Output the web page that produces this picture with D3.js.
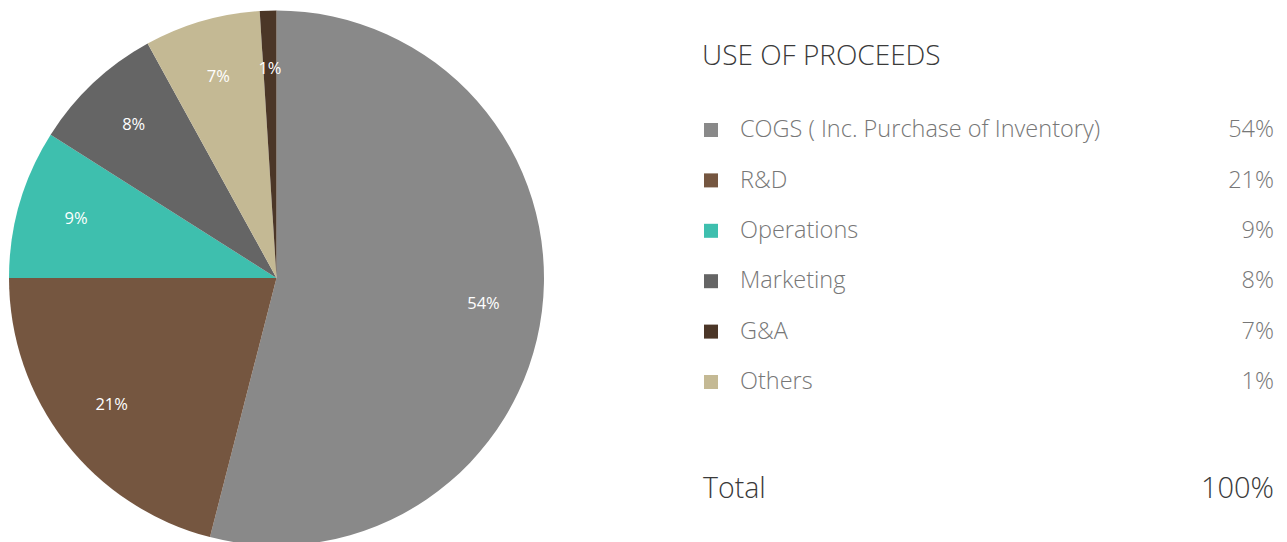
<!DOCTYPE html>
<html>
<head>
<meta charset="utf-8">
<script src="https://cdn.jsdelivr.net/npm/d3@7"></script>
<style>
  body { margin: 0; background: #fff; }
  svg { display: block; font-family: "Open Sans", "Noto Sans", sans-serif; }
</style>
</head>
<body>
<svg id="chart" width="1287" height="542"></svg>
<script>
// Use of proceeds breakdown
const categories = ["COGS ( Inc. Purchase of Inventory)", "R&D", "Operations", "Marketing", "G&A", "Others"];
const shares = [54, 21, 9, 8, 7, 1];
const totalLabel = "Total";

// pie slices and legend swatches don't share the same order for the last two in the original
const sliceColors = ["#898989", "#755640", "#3ebfae", "#656565", "#c4b994", "#4b3627"];
const legendColors = ["#898989", "#755640", "#3ebfae", "#656565", "#4b3627", "#c4b994"];

const svg = d3.select("#chart");

// ---- pie ----
const radius = 267.5;
const pieG = svg.append("g")
    .attr("transform", `translate(${276.5},${278})`);

const pie = d3.pie().sort(null).value(d => d);
const arc = d3.arc().innerRadius(0).outerRadius(radius);
const labelArc = d3.arc().innerRadius(radius * 0.78).outerRadius(radius * 0.78);

const slices = pie(shares);

pieG.selectAll("path")
    .data(slices)
    .join("path")
    .attr("d", arc)
    .style("fill", (d, i) => sliceColors[i]);

pieG.selectAll("text")
    .data(slices)
    .join("text")
    .attr("transform", d => `translate(${labelArc.centroid(d)})`)
    .attr("text-anchor", "middle")
    .attr("dominant-baseline", "middle")
    .style("fill", "#fff")
    .style("font-size", "16.5px")
    .text(d => d.data + "%");

// ---- legend table ----
const legendLeft = 703;
const legendRight = 1274;

svg.append("text")
    .attr("x", legendLeft - 1)
    .attr("y", 58)
    .attr("dominant-baseline", "middle")
    .style("fill", "#3a3a3a")
    .style("font-size", "28px")
    .style("font-weight", 300)
    .text("USE OF PROCEEDS");

const rowY = d3.scalePoint()
    .domain(categories)
    .range([130, 382]);

const rows = svg.append("g")
    .selectAll("g")
    .data(categories)
    .join("g")
    .attr("transform", d => `translate(0,${rowY(d)})`);

rows.append("rect")
    .attr("x", legendLeft + 1)
    .attr("y", -7)
    .attr("width", 14)
    .attr("height", 14)
    .style("fill", (d, i) => legendColors[i]);

rows.append("text")
    .attr("x", legendLeft + 37)
    .attr("y", 1)
    .attr("dominant-baseline", "middle")
    .style("fill", "#777")
    .style("font-size", "23.5px")
    .style("font-weight", 300)
    .text(d => d);

rows.append("text")
    .attr("x", legendRight)
    .attr("y", 1)
    .attr("text-anchor", "end")
    .attr("dominant-baseline", "middle")
    .style("fill", "#777")
    .style("font-size", "23.5px")
    .style("font-weight", 300)
    .text((d, i) => shares[i] + "%");

// total row
const total = d3.sum(shares);
svg.append("text")
    .attr("x", legendLeft)
    .attr("y", 490)
    .attr("dominant-baseline", "middle")
    .style("fill", "#3a3a3a")
    .style("font-size", "28.5px")
    .style("font-weight", 300)
    .text(totalLabel);

svg.append("text")
    .attr("x", legendRight)
    .attr("y", 490)
    .attr("text-anchor", "end")
    .attr("dominant-baseline", "middle")
    .style("fill", "#3a3a3a")
    .style("font-size", "29px")
    .style("font-weight", 300)
    .text(total + "%");
</script>
</body>
</html>
